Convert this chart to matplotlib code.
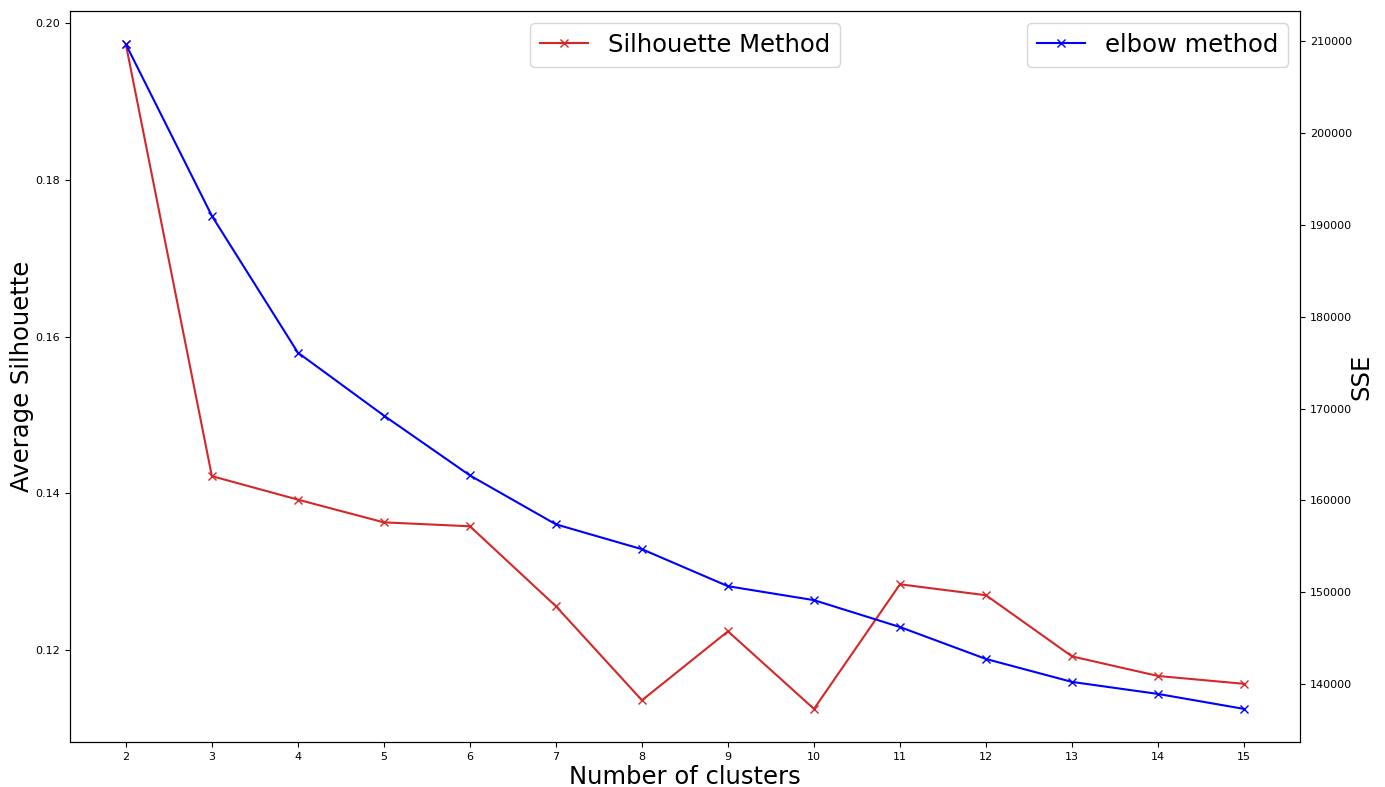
import matplotlib
matplotlib.use("Agg")
import matplotlib.pyplot as plt

clusters = [2, 3, 4, 5, 6, 7, 8, 9, 10, 11, 12, 13, 14, 15]
silhouette = [0.1973, 0.1422, 0.1392, 0.1363, 0.1358, 0.1256, 0.1136,
              0.1224, 0.1125, 0.1284, 0.1270, 0.1192, 0.1167, 0.1157]
sse = [209700, 191000, 176100, 169240, 162720, 157390, 154680,
       150650, 149130, 146200, 142720, 140220, 138910, 137280]

fig, ax1 = plt.subplots(figsize=(13.85, 7.87), dpi=100)
fig.subplots_adjust(left=0.0505, right=0.9386, top=0.986, bottom=0.057)

ax1.plot(clusters, silhouette, color="tab:red", marker="x", label="Silhouette Method")
ax1.set_xlabel("Number of clusters", fontsize=17.5, labelpad=2)
ax1.set_ylabel("Average Silhouette", fontsize=17.5, labelpad=1)
ax1.set_xticks(clusters)
ax1.tick_params(labelsize=8)
ax1.legend(loc="upper center", fontsize=17.5)

ax2 = ax1.twinx()
ax2.plot(clusters, sse, color="blue", marker="x", label="elbow method")
ax2.set_ylabel("SSE", fontsize=17.5, labelpad=-1.5)
ax2.tick_params(labelsize=8)
ax2.legend(loc="upper right", fontsize=17.5)

fig.savefig("out.png", dpi=100)
